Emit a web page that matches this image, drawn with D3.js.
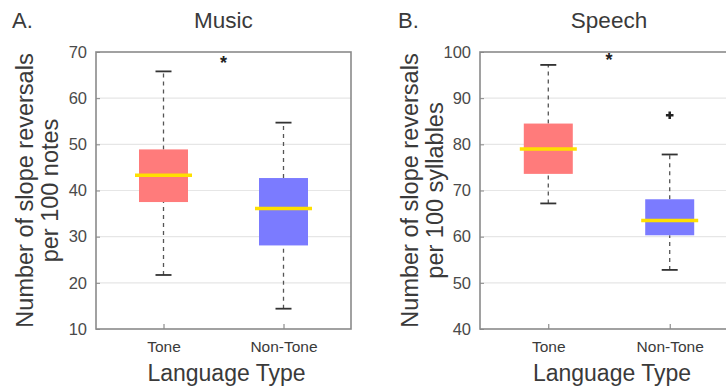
<!DOCTYPE html>
<html>
<head>
<meta charset="utf-8">
<script src="https://cdn.jsdelivr.net/npm/d3@7"></script>
<style>
  body { margin: 0; background: #fff; }
  svg { display: block; font-family: "Liberation Sans", Arial, sans-serif; }
</style>
</head>
<body>
<svg id="chart" width="726" height="388"></svg>
<script>
// categories and box stats
const categories = ["Tone", "Non-Tone"];

// [whiskerLow, q1, median, q3, whiskerHigh]
const musicStats = [
    [21.7, 37.5, 43.3, 48.9, 65.8],
    [14.4, 28.1, 36.1, 42.7, 54.7]
];
const speechStats = [
    [67.2, 73.6, 79.0, 84.5, 97.2],
    [52.8, 60.3, 63.5, 68.1, 77.8]
];
const musicOutliers = [];
const speechOutliers = [{ cat: "Non-Tone", value: 86.3 }];

const musicTicks = [10, 20, 30, 40, 50, 60, 70];
const speechTicks = [40, 50, 60, 70, 80, 90, 100];

const musicStar = 68.0;
const speechStar = 98.7;

const svg = d3.select("#chart");

function drawPanel(opt) {
    const g = svg.append("g");
    const top = 52, bottom = 329;

    const y = d3.scaleLinear().domain(opt.domain).range([bottom, top]);
    const x = d3.scalePoint().domain(categories).range([opt.left, opt.right]).padding(0.5625);

    // gridlines
    g.selectAll(".grid")
        .data(opt.ticks.slice(1, -1))
        .enter().append("line")
        .attr("x1", opt.left).attr("x2", opt.right)
        .attr("y1", d => y(d)).attr("y2", d => y(d))
        .attr("stroke", "#e6e6e6").attr("stroke-width", 1.2);

    // y axis labels
    const yAxis = d3.axisLeft(y).tickValues(opt.ticks).tickSize(-4).tickPadding(9);
    const ya = g.append("g").attr("transform", `translate(${opt.left},0)`).call(yAxis);
    ya.select(".domain").remove();
    ya.selectAll("line").attr("stroke", "#888");
    ya.selectAll("text").attr("font-size", 16.5).attr("fill", "#4a4a4a")
        .attr("font-family", "Liberation Sans, Arial, sans-serif");

    // x axis
    const xAxis = d3.axisBottom(x).tickSize(-5).tickPadding(12);
    const xa = g.append("g").attr("transform", `translate(0,${bottom})`).call(xAxis);
    xa.select(".domain").remove();
    xa.selectAll("line").attr("stroke", "#777");
    xa.selectAll("text").attr("font-size", 15.5).attr("fill", "#3a3a3a")
        .attr("font-family", "Liberation Sans, Arial, sans-serif");

    // boxes
    const boxW = 49, capW = 16, medW = 57;
    opt.stats.forEach((s, i) => {
        const cx = x(categories[i]);
        // whiskers
        g.append("line").attr("x1", cx).attr("x2", cx)
            .attr("y1", y(s[3])).attr("y2", y(s[4]))
            .attr("stroke", "#555").attr("stroke-width", 1.3).attr("stroke-dasharray", "4,4");
        g.append("line").attr("x1", cx).attr("x2", cx)
            .attr("y1", y(s[0])).attr("y2", y(s[1]))
            .attr("stroke", "#555").attr("stroke-width", 1.3).attr("stroke-dasharray", "4,4");
        [s[0], s[4]].forEach(v => {
            g.append("line").attr("x1", cx - capW / 2).attr("x2", cx + capW / 2)
                .attr("y1", y(v)).attr("y2", y(v))
                .attr("stroke", "#333").attr("stroke-width", 1.8);
        });
        g.append("rect")
            .attr("x", cx - boxW / 2).attr("width", boxW)
            .attr("y", y(s[3])).attr("height", y(s[1]) - y(s[3]))
            .attr("fill", opt.colors[i]);
        g.append("line").attr("x1", cx - medW / 2).attr("x2", cx + medW / 2)
            .attr("y1", y(s[2])).attr("y2", y(s[2]))
            .attr("stroke", "#ffe000").attr("stroke-width", 3.5);
    });

    // outliers
    opt.outliers.forEach(o => {
        g.append("path")
            .attr("d", d3.symbol().type(d3.symbolCross).size(32)())
            .attr("transform", `translate(${x(o.cat)},${y(o.value)})`)
            .attr("fill", "#222");
    });

    // significance star
    g.append("text")
        .attr("x", (x(categories[0]) + x(categories[1])) / 2)
        .attr("y", y(opt.star) + 8)
        .attr("text-anchor", "middle")
        .attr("font-size", 18).attr("font-weight", "bold").attr("fill", "#222")
        .text("*");

    // frame
    g.append("rect")
        .attr("x", opt.left).attr("y", top)
        .attr("width", opt.right - opt.left).attr("height", bottom - top)
        .attr("fill", "none").attr("stroke", "#8a8a8a").attr("stroke-width", 1.6);

    // titles
    const mid = (opt.left + opt.right) / 2;
    g.append("text").attr("x", mid).attr("y", 28).attr("text-anchor", "middle")
        .attr("font-size", 22.5).attr("fill", "#3a3a3a").text(opt.title);
    g.append("text").attr("x", opt.letterX).attr("y", 28)
        .attr("font-size", 22).attr("fill", "#3a3a3a").text(opt.letter);
    g.append("text").attr("x", x(categories[0]) + (x(categories[1]) - x(categories[0])) / 2 + 3).attr("y", 381)
        .attr("text-anchor", "middle")
        .attr("font-size", 23).attr("fill", "#3a3a3a").text("Language Type");

    const yl = g.append("text")
        .attr("transform", `translate(${opt.labelX},${(top + bottom) / 2}) rotate(-90)`)
        .attr("text-anchor", "middle")
        .attr("font-size", 23.5).attr("fill", "#3a3a3a");
    yl.append("tspan").attr("x", 0).attr("dy", 0).text("Number of slope reversals");
    yl.append("tspan").attr("x", 0).attr("dy", 25).text(opt.unit);
}

drawPanel({
    left: 96, right: 351, domain: [10, 70], ticks: musicTicks,
    stats: musicStats, outliers: musicOutliers, star: musicStar,
    colors: ["#ff7b7b", "#7b7bff"],
    title: "Music", letter: "A.", letterX: 12, labelX: 33, unit: "per 100 notes"
});
drawPanel({
    left: 480, right: 738, domain: [40, 100], ticks: speechTicks,
    stats: speechStats, outliers: speechOutliers, star: speechStar,
    colors: ["#ff7b7b", "#7b7bff"],
    title: "Speech", letter: "B.", letterX: 398, labelX: 418, unit: "per 100 syllables"
});
</script>
</body>
</html>
